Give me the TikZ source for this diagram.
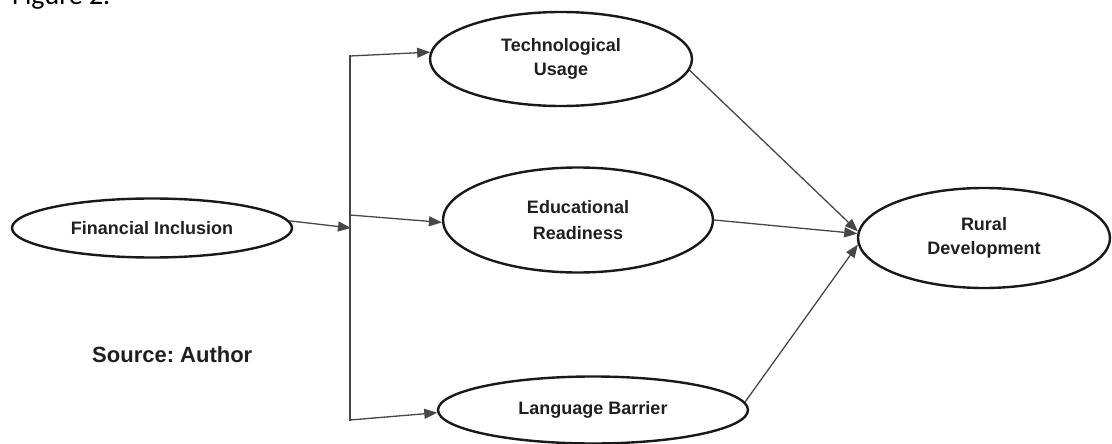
\documentclass[tikz,border=0pt]{standalone}
\usepackage{fontspec}
\setmainfont{Liberation Sans}
\newfontfamily\captionfont{Carlito}
\usetikzlibrary{shapes.geometric,arrows.meta}
\frenchspacing
\begin{document}
\begin{tikzpicture}[x=1pt,y=-1pt,
  construct/.style={ellipse,draw=black!90,line width=2.4pt,inner sep=0pt,
    align=center,font=\fontsize{18}{24}\selectfont\bfseries,text=black!88},
  link/.style={draw=black!72,line width=1.3pt,
    -{Triangle[length=13pt,width=10pt]}},
  trunk/.style={draw=black!72,line width=1.3pt,line cap=rect}]
\useasboundingbox (0,0) rectangle (1112,444);
\clip (0,0) rectangle (1112,444);

% caption line, cut by the top edge of the page
\node[anchor=base west,inner sep=0pt,font=\captionfont\fontsize{28}{34}\selectfont]
  (fig) at (12,5) {Figure 2.};

% constructs
\node[construct,minimum width=280pt,minimum height=59pt]  (fin)   at (152,228) {Financial Inclusion};
\node[construct,minimum width=262pt,minimum height=94pt]  (tech)  at (561,59)  {Technological\\Usage};
\node[construct,minimum width=270pt,minimum height=105pt,
      font=\fontsize{18}{26}\selectfont\bfseries]          (edu)   at (578,220) {Educational\\Readiness};
\node[construct,minimum width=310pt,minimum height=67pt]  (lang)  at (593,410) {Language Barrier};
\node[construct,minimum width=252pt,minimum height=100pt] (rural) at (984,238) {Rural\\Development};

\node[anchor=base west,inner sep=0pt,font=\fontsize{22}{26}\selectfont\bfseries,text=black!88]
  (src) at (92,362) {Source: Author};

% distribution bar
\coordinate (vt) at (350,56);
\coordinate (vm) at (350,215);
\coordinate (vb) at (350,420);
\coordinate (j)  at (351,228);

\draw[trunk] (vt) -- (vb);
\draw[link] (fin.3) -- (j);
\draw[link] (vt) -- (tech.177);
\draw[link] (vm) -- (edu.181);
\draw[link] (vb) -- (lang.181);

% paths into rural development
\draw[link] (tech.-5) -- (rural.177);
\draw[link] (edu.east) -- (rural.178.6);
\draw[link] (lang.3) -- (rural.183);
\end{tikzpicture}
\end{document}
